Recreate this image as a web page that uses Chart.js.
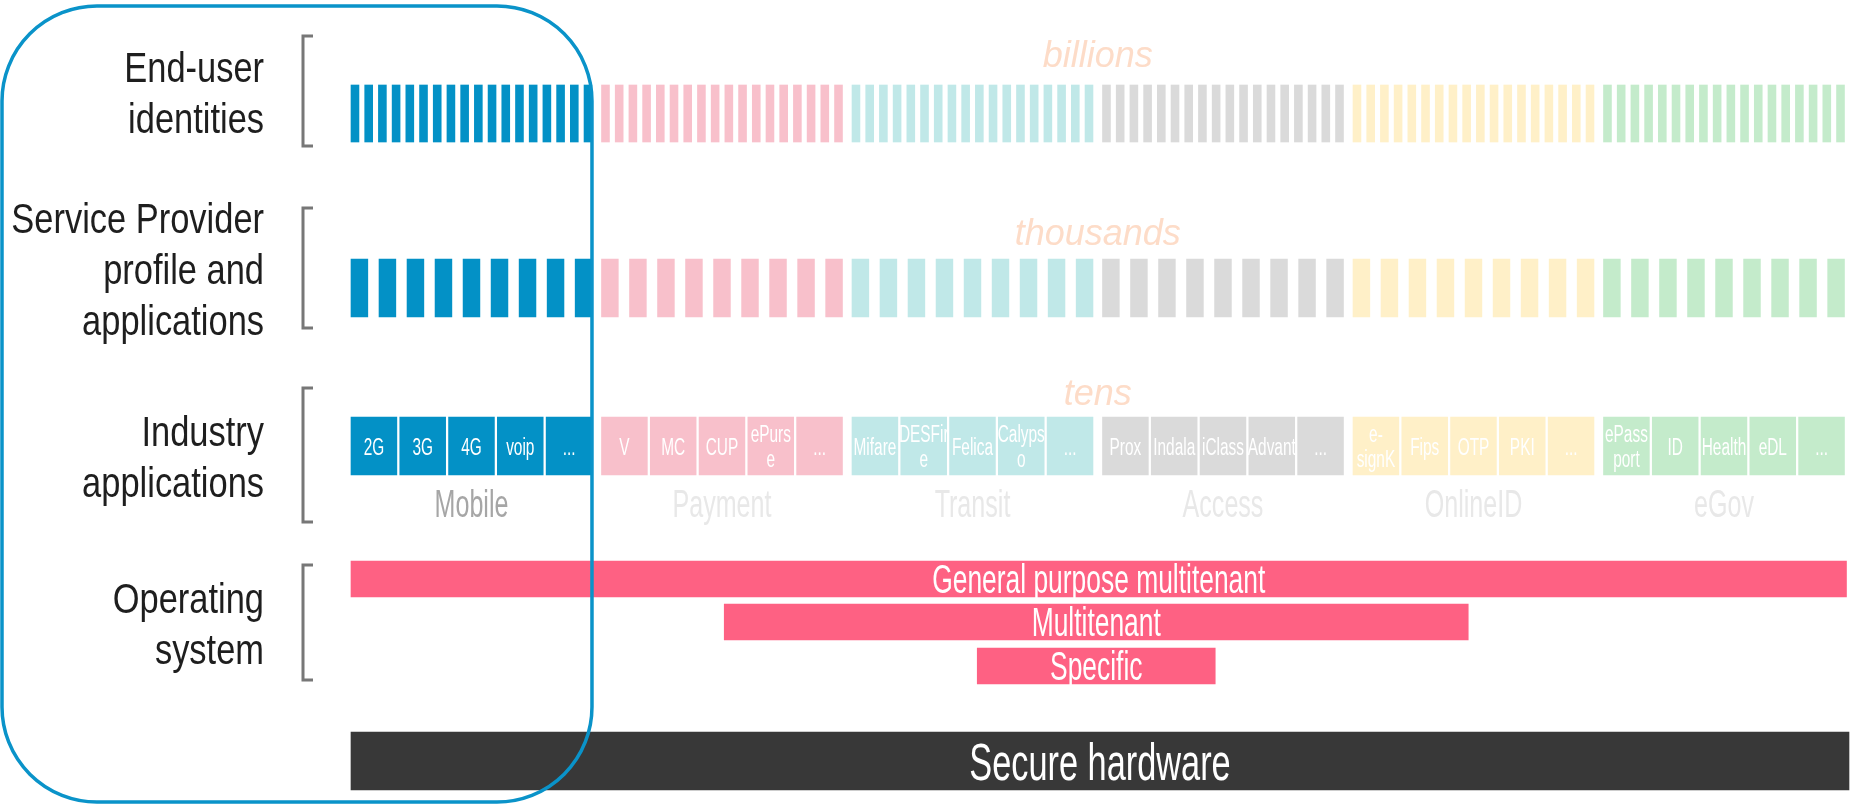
<!DOCTYPE html>
<html>
<head>
<meta charset="utf-8">
<title>Secure element layers</title>
<script src="https://cdn.jsdelivr.net/npm/chart.js@4.4.1/dist/chart.umd.min.js"></script>
<style>
html, body { margin: 0; padding: 0; background: #fff; }
canvas { display: block; }
</style>
</head>
<body>
<canvas id="layers" width="1860" height="805"></canvas>
<script>
// values
const groups = ['Mobile', 'Payment', 'Transit', 'Access', 'OnlineID', 'eGov'];
const identityCounts = [18, 18, 18, 18, 18, 18];
const profileCounts = [9, 9, 9, 9, 9, 9];
const industryApps = [
    ['2G', '3G', '4G', 'voip', '...'],
    ['V', 'MC', 'CUP', 'ePurs\ne', '...'],
    ['Mifare', 'DESFir\ne', 'Felica', 'Calyps\no', '...'],
    ['Prox', 'Indala', 'iClass', 'Advant', '...'],
    ['e-\nsignK', 'Fips', 'OTP', 'PKI', '...'],
    ['ePass\nport', 'ID', 'Health', 'eDL', '...']
];
const osLayers = ['General purpose multitenant', 'Multitenant', 'Specific'];
const osFrom = [0, 1.49, 2.5];
const osTo = [5.97, 4.46, 3.45];
const hardwareLabel = 'Secure hardware';
const hardwareFrom = 0;
const hardwareTo = 5.98;
const magnitudes = ['billions', 'thousands', 'tens'];
const layerNames = [
    ['End-user', 'identities'],
    ['Service Provider', 'profile and', 'applications'],
    ['Industry', 'applications'],
    ['Operating', 'system']
];

// colours / layout
const groupColors = ['#0391c6', '#f8c0cb', '#c0e8e8', '#dadada', '#fff0c8', '#c4ebcb'];
const GROUP_SPAN = 0.962;          // share of a group slot that holds marks
const rows = {
    identities: { y: 113.5, h: 57, fill: 0.58 },
    profiles:   { y: 288,   h: 58, fill: 0.60 },
    apps:       { y: 446,   h: 58, fill: 0.94 },
    os:         { y: [579, 622, 666], h: 36 },
    hardware:   { y: 761,   h: 58 }
};
const brackets = [[36, 146], [208, 328], [388, 522], [565, 680]];
const magnitudeBaselines = [67, 245, 405];
const FONT = '"Liberation Sans", Arial, sans-serif';

// squeezed text, a stand-in for the narrow display faces of the original
function condText(ctx, text, x, y, size, sx, color, align) {
    ctx.save();
    ctx.translate(x, y);
    ctx.scale(sx, 1);
    ctx.font = size + 'px ' + FONT;
    ctx.fillStyle = color;
    ctx.textAlign = align || 'center';
    ctx.textBaseline = 'alphabetic';
    ctx.fillText(text, 0, 0);
    ctx.restore();
}

function rowMarks(counts, fill, y, labels) {
    const out = [];
    counts.forEach((n, g) => {
        const pitch = GROUP_SPAN / (n - 1 + fill);
        for (let i = 0; i < n; i++) {
            const s = g + i * pitch;
            out.push({ x: [s, s + fill * pitch], y: y, g: g, label: labels ? labels[g][i] : null });
        }
    });
    return out;
}

const labelsPlugin = {
    id: 'barLabels',
    afterDatasetsDraw(chart) {
        const ctx = chart.ctx;
        // industry app boxes
        const apps = chart.getDatasetMeta(2);
        apps.data.forEach((el, i) => {
            const raw = chart.data.datasets[2].data[i];
            const cx = (el.x + el.base) / 2;
            const lines = raw.label.split('\n');
            if (lines.length === 1) {
                condText(ctx, lines[0], cx, el.y + 9, 23, 0.67, '#fff');
            } else {
                condText(ctx, lines[0], cx, el.y - 4, 23, 0.67, '#fff');
                condText(ctx, lines[1], cx, el.y + 21, 23, 0.67, '#fff');
            }
        });
        // operating system layers
        const os = chart.getDatasetMeta(3);
        os.data.forEach((el, i) => {
            condText(ctx, osLayers[i], (el.x + el.base) / 2, el.y + 14, 40, 0.66, '#fff');
        });
        const hw = chart.getDatasetMeta(4).data[0];
        condText(ctx, hardwareLabel, (hw.x + hw.base) / 2, hw.y + 19, 52, 0.66, '#fff');
    }
};

const decorPlugin = {
    id: 'decor',
    afterDraw(chart) {
        const ctx = chart.ctx;
        const x = chart.scales.x;

        // group names under the industry boxes
        groups.forEach((name, g) => {
            condText(ctx, name, x.getPixelForValue(g + GROUP_SPAN / 2), 517, 38, 0.66, g === 0 ? '#a6a6a6' : '#e8e8e8');
        });

        // magnitude words
        ctx.save();
        ctx.font = 'italic 36px ' + FONT;
        ctx.fillStyle = '#fddcc8';
        ctx.textAlign = 'center';
        const mid = x.getPixelForValue((5 + GROUP_SPAN) / 2);
        magnitudes.forEach((w, i) => ctx.fillText(w, mid, magnitudeBaselines[i]));
        ctx.restore();

        // brackets and layer names
        ctx.save();
        ctx.strokeStyle = '#777';
        ctx.lineWidth = 3;
        brackets.forEach(([top, bottom], i) => {
            ctx.beginPath();
            ctx.moveTo(313, top);
            ctx.lineTo(303, top);
            ctx.lineTo(303, bottom);
            ctx.lineTo(313, bottom);
            ctx.stroke();

            const lines = layerNames[i];
            const c = (top + bottom) / 2;
            lines.forEach((t, k) => {
                condText(ctx, t, 264, c - (lines.length - 1) * 51 / 2 + k * 51 + 16, 42, 0.82, '#1e1e1e', 'right');
            });
        });
        ctx.restore();

        // rounded frame around the mobile column
        const l = 2, t = 6, r = x.getPixelForValue(GROUP_SPAN), b = 802, rad = 95;
        ctx.save();
        ctx.strokeStyle = '#0a93c9';
        ctx.lineWidth = 3.5;
        ctx.beginPath();
        ctx.moveTo(l + rad, t);
        ctx.arcTo(r, t, r, b, rad);
        ctx.arcTo(r, b, l, b, rad);
        ctx.arcTo(l, b, l, t, rad);
        ctx.arcTo(l, t, r, t, rad);
        ctx.closePath();
        ctx.stroke();
        ctx.restore();
    }
};

const colorByGroup = c => groupColors[c.raw.g];

new Chart(document.getElementById('layers').getContext('2d'), {
    type: 'bar',
    data: {
        datasets: [
            {
                label: 'End-user identities',
                data: rowMarks(identityCounts, rows.identities.fill, rows.identities.y),
                backgroundColor: colorByGroup,
                barThickness: rows.identities.h
            },
            {
                label: 'Service Provider profile and applications',
                data: rowMarks(profileCounts, rows.profiles.fill, rows.profiles.y),
                backgroundColor: colorByGroup,
                barThickness: rows.profiles.h
            },
            {
                label: 'Industry applications',
                data: rowMarks(industryApps.map(a => a.length), rows.apps.fill, rows.apps.y, industryApps),
                backgroundColor: colorByGroup,
                barThickness: rows.apps.h
            },
            {
                label: 'Operating system',
                data: osLayers.map((n, i) => ({ x: [osFrom[i], osTo[i]], y: rows.os.y[i] })),
                backgroundColor: '#fe6183',
                barThickness: rows.os.h
            },
            {
                label: hardwareLabel,
                data: [{ x: [hardwareFrom, hardwareTo], y: rows.hardware.y }],
                backgroundColor: '#383838',
                barThickness: rows.hardware.h
            }
        ]
    },
    options: {
        indexAxis: 'y',
        responsive: false,
        animation: false,
        events: [],
        grouped: false,
        clip: false,
        layout: { padding: { left: 351, right: 6, top: 0, bottom: 0 } },
        scales: {
            x: { type: 'linear', min: 0, max: 6, offset: false, display: false },
            y: { type: 'linear', min: 0, max: 805, reverse: true, offset: false, display: false }
        },
        plugins: { legend: { display: false }, tooltip: { enabled: false } }
    },
    plugins: [labelsPlugin, decorPlugin]
});
</script>
</body>
</html>
